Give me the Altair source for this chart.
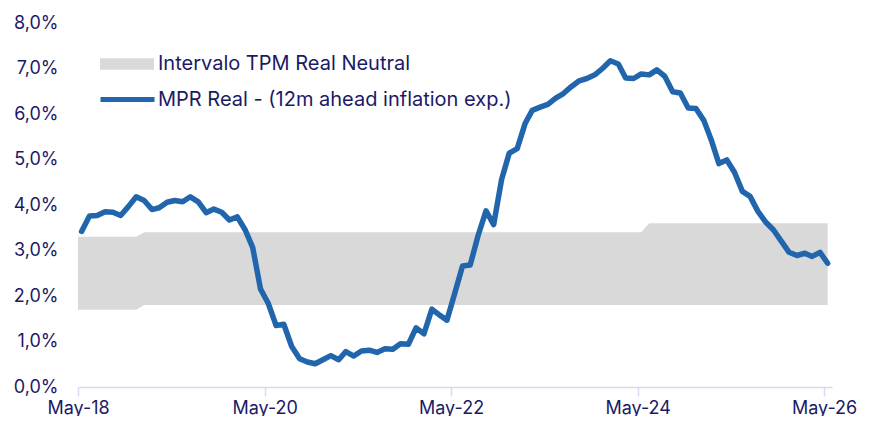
import altair as alt
import pandas as pd

# ---- data ----
start_year, start_month = 2018, 5
mpr_real = [
    3.42, 3.76, 3.77, 3.85, 3.84, 3.77, 3.97, 4.18,   # May-18 .. Dec-18
    4.10, 3.90, 3.94, 4.06, 4.10, 4.07, 4.18, 4.07, 3.83, 3.91, 3.84, 3.67,  # 2019
    3.74, 3.45, 3.07, 2.15, 1.84, 1.35, 1.38, 0.89, 0.62, 0.55, 0.51, 0.60,  # 2020
    0.69, 0.60, 0.78, 0.68, 0.79, 0.81, 0.76, 0.84, 0.83, 0.95, 0.94, 1.30,  # 2021
    1.17, 1.71, 1.59, 1.47, 2.05, 2.66, 2.68, 3.33, 3.87, 3.57, 4.56, 5.14,  # 2022
    5.24, 5.79, 6.08, 6.15, 6.21, 6.35, 6.45, 6.60, 6.73, 6.78, 6.86, 7.00,  # 2023
    7.17, 7.10, 6.79, 6.78, 6.88, 6.86, 6.97, 6.83, 6.49, 6.46, 6.13, 6.12,  # 2024
    5.86, 5.40, 4.91, 4.99, 4.72, 4.30, 4.19, 3.86, 3.62, 3.45, 3.20, 2.96,  # 2025
    2.89, 2.94, 2.87, 2.96, 2.72,                                            # 2026
]
band_dates = ["2018-05-01", "2018-12-15", "2019-01-15", "2024-05-15", "2024-06-15", "2026-05-15"]
band_low = [1.7, 1.7, 1.8, 1.8, 1.8, 1.8]
band_high = [3.3, 3.3, 3.4, 3.4, 3.6, 3.6]
y_ticks = [0, 1, 2, 3, 4, 5, 6, 7, 8]
x_tick_years = [2018, 2020, 2022, 2024, 2026]

band_name = "Intervalo TPM Real Neutral"
line_name = "MPR Real - (12m ahead inflation exp.)"

months = []
for i in range(len(mpr_real)):
    m = start_month - 1 + i
    months.append(f"{start_year + m // 12}-{m % 12 + 1:02d}-15")

line_df = pd.DataFrame({"date": months, "value": mpr_real, "serie": line_name})
band_df = pd.DataFrame({"date": band_dates, "low": band_low, "high": band_high, "serie": band_name})

NAVY = "#1B1A66"
FONT = "Inter"
AXIS_COL = "#D5DCF2"

xscale = alt.Scale(
    type="utc",
    domain=[alt.DateTime(year=2018, month=5, date=1, utc=True),
            alt.DateTime(year=2026, month=6, date=1, utc=True)],
    nice=False,
)
xaxis = alt.Axis(
    values=[alt.DateTime(year=y, month=5, date=1, utc=True) for y in x_tick_years],
    format="%b-%y", title=None, grid=False,
    labelFont=FONT, labelFontSize=18, labelColor=NAVY, labelFlush=False, labelPadding=3,
    domainColor=AXIS_COL, domainWidth=1.5, tickColor=AXIS_COL, tickWidth=1.5, tickSize=9,
)
yscale = alt.Scale(domain=[0, 8], nice=False)
yaxis = alt.Axis(
    values=y_ticks, title=None, grid=False, domain=False, ticks=False,
    labelExpr="replace(format(datum.value, '.1f'), '.', ',') + '%'",
    labelFont=FONT, labelFontSize=18, labelColor=NAVY, labelPadding=20,
)

band = alt.Chart(band_df).mark_area(interpolate="linear").encode(
    x=alt.X("date:T", scale=xscale, axis=xaxis),
    y=alt.Y("low:Q", scale=yscale, axis=yaxis),
    y2="high:Q",
    fill=alt.Fill("serie:N", scale=alt.Scale(domain=[band_name], range=["#D9D9D9"]),
                  legend=alt.Legend(
                      orient="none", legendX=22, legendY=14, title=None, padding=0,
                      symbolType="M-1,-0.21H1V0.21H-1Z", symbolSize=2916, symbolStrokeWidth=0,
                      labelFont=FONT, labelFontSize=20, labelColor=NAVY, labelOffset=4, labelLimit=0)),
)

line = alt.Chart(line_df).mark_line(strokeWidth=5.5, strokeJoin="round", strokeCap="round").encode(
    x=alt.X("date:T", scale=xscale, axis=xaxis),
    y=alt.Y("value:Q", scale=yscale, axis=yaxis),
    stroke=alt.Stroke("serie:N", scale=alt.Scale(domain=[line_name], range=["#2166AC"]),
                      legend=alt.Legend(
                          orient="none", legendX=20, legendY=47, title=None, padding=0,
                          symbolType="stroke", symbolSize=2916, symbolStrokeWidth=5,
                          labelFont=FONT, labelFontSize=20, labelColor=NAVY, labelOffset=1, labelLimit=0)),
)

chart = alt.layer(band, line).resolve_scale(fill="independent", stroke="independent").properties(
    width=754, height=364,
    autosize=alt.AutoSizeParams(type="none"),
    padding={"left": 70, "top": 15, "right": 40, "bottom": 29},
).configure_view(stroke=None)

chart.save("out.html", embed_options={"renderer": "svg", "actions": False})
